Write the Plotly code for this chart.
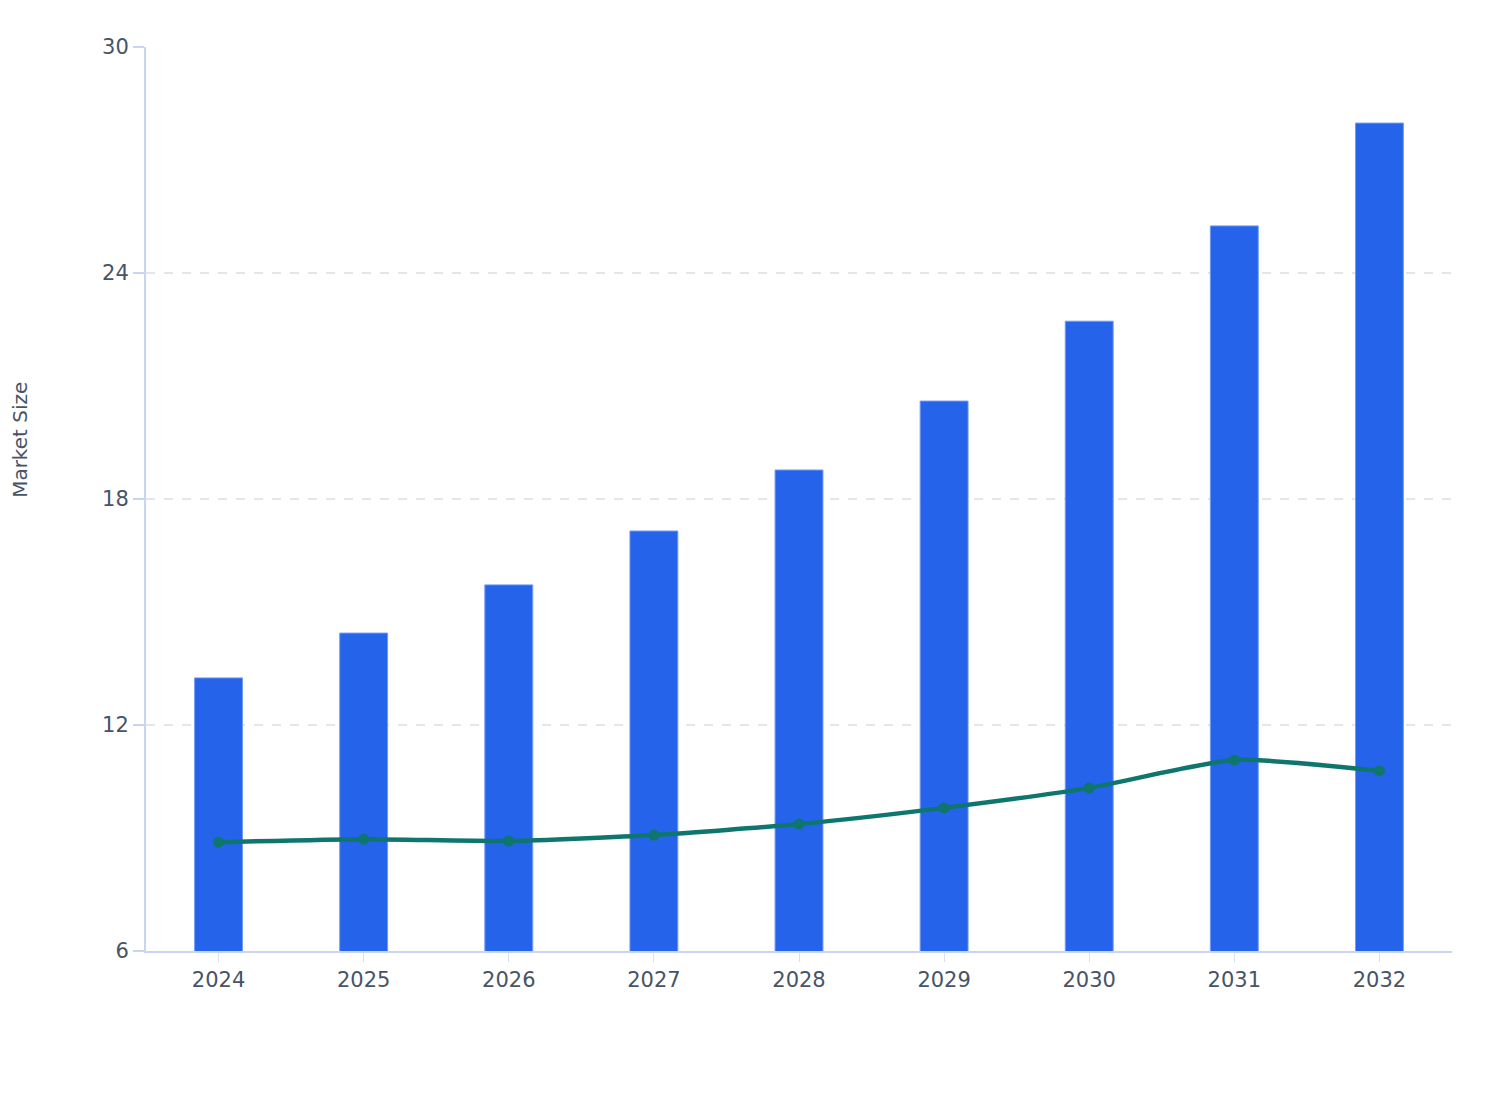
import plotly.graph_objects as go

years = ["2024", "2025", "2026", "2027", "2028", "2029", "2030", "2031", "2032"]
market_size = [13.25, 14.44, 15.72, 17.15, 18.77, 20.6, 22.72, 25.25, 27.98]
line_values = [8.89, 8.97, 8.92, 9.08, 9.37, 9.80, 10.33, 11.07, 10.78]
y_ticks = [6, 12, 18, 24, 30]
y_title = "Market Size"

FONT = "DejaVu Sans, sans-serif"
AXIS_COLOR = "#c7d4f5"
TEXT_COLOR = "#475467"

fig = go.Figure()
fig.add_trace(go.Bar(
    x=years, y=market_size, width=0.33,
    marker=dict(color="#2563eb", line=dict(color="#6f9af2", width=1)),
    showlegend=False,
))
fig.add_trace(go.Scatter(
    x=years, y=line_values, mode="lines+markers",
    line=dict(color="#0f766e", width=4.5, shape="spline", smoothing=0.6),
    marker=dict(color="#0f766e", size=11),
    showlegend=False,
))

fig.update_layout(
    width=1508, height=1120,
    margin=dict(l=138, r=64, t=39, b=177, autoexpand=False),
    paper_bgcolor="white", plot_bgcolor="white",
    font=dict(family=FONT, color=TEXT_COLOR, size=21),
    bargap=0.67,
)
fig.update_xaxes(
    type="category", range=[-0.5, 8.5], automargin=False,
    showline=True, linecolor=AXIS_COLOR, linewidth=2,
    ticks="outside", ticklen=9, tickcolor="#d8e0f5", tickwidth=1,
    showgrid=False, tickfont=dict(size=21, color=TEXT_COLOR),
)
fig.update_yaxes(
    range=[6, 30], tickvals=y_ticks, automargin=False,
    showline=True, linecolor=AXIS_COLOR, linewidth=2,
    ticks="outside", ticklen=11, tickcolor=AXIS_COLOR, tickwidth=2,
    showgrid=True, gridcolor="#e3e5ea", griddash="dash", gridwidth=1.5,
    zeroline=False,
    tickfont=dict(size=21, color=TEXT_COLOR),
)
fig.add_annotation(
    text=y_title, textangle=-90, showarrow=False,
    xref="paper", yref="paper", x=-0.096, y=0.565,
    xanchor="center", yanchor="middle",
    font=dict(size=20, color=TEXT_COLOR, family=FONT),
)

fig.write_html("out.html")
